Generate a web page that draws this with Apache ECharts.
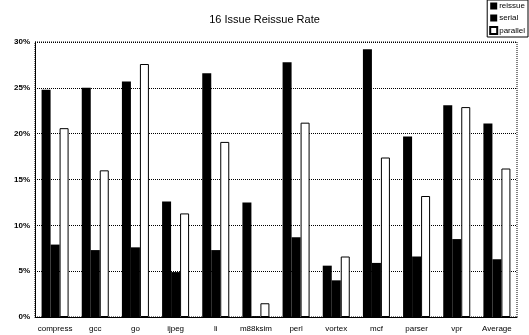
<!DOCTYPE html>
<html>
<head>
<meta charset="utf-8">
<script src="https://cdn.jsdelivr.net/npm/echarts@6/dist/echarts.min.js"></script>
<style>html,body{margin:0;padding:0;background:#fff;}#c{width:529px;height:335px;}</style>
</head>
<body>
<div id="c"></div>
<script>
var categories = ['compress','gcc','go','ijpeg','li','m88ksim','perl','vortex','mcf','parser','vpr','Average'];
var reissue  = [24.8, 25.0, 25.7, 12.6, 26.6, 12.5, 27.8, 5.6, 29.2, 19.7, 23.1, 21.1];
var serial   = [7.9, 7.3, 7.6, 4.9, 7.3, 0.1, 8.7, 4.0, 5.9, 6.6, 8.5, 6.3];
var parallel = [20.6, 16.0, 27.6, 11.3, 19.1, 1.5, 21.2, 6.6, 17.4, 13.2, 22.9, 16.2];
var yTicks = [0, 5, 10, 15, 20, 25, 30];

var font = '"Liberation Sans", Arial, sans-serif';
var chart = echarts.init(document.getElementById('c'));
chart.setOption({
  animation: false,
  backgroundColor: '#fff',
  title: {
    text: '16 Issue Reissue Rate',
    left: 'center', top: 9,
    textStyle: {fontFamily: font, fontSize: 11, fontWeight: 'normal', color: '#000'}
  },
  legend: {
    orient: 'vertical', right: 1, top: 0,
    itemWidth: 7, itemHeight: 7, itemGap: 4,
    padding: [2, 3, 2, 2],
    borderColor: '#000', borderWidth: 1,
    icon: 'rect',
    textStyle: {fontFamily: font, fontSize: 8, color: '#000', padding: [0, 0, 0, -3]},
    data: ['reissue', 'serial', 'parallel']
  },
  grid: {
    left: 35, right: 12, top: 42, bottom: 18,
    show: true, borderColor: '#000', borderWidth: 1, borderType: 'dotted',
    backgroundColor: 'transparent'
  },
  xAxis: {
    type: 'category', data: categories,
    axisLine: {lineStyle: {color: '#000', width: 1}},
    axisTick: {show: false},
    axisLabel: {fontFamily: font, fontSize: 8, color: '#000', margin: 8, interval: 0}
  },
  yAxis: {
    type: 'value', min: yTicks[0], max: yTicks[yTicks.length - 1], interval: 5,
    axisLine: {show: true, lineStyle: {color: '#000', width: 1}},
    axisTick: {show: false},
    axisLabel: {fontFamily: font, fontSize: 8, fontWeight: 'bold', color: '#000', formatter: '{value}%', margin: 5},
    splitLine: {show: true, lineStyle: {color: '#000', type: 'dotted', width: 1}}
  },
  series: [
    {name: 'reissue', type: 'bar', data: reissue, barWidth: 9, barGap: '0%',
     itemStyle: {color: '#000'}},
    {name: 'serial', type: 'bar', data: serial, barWidth: 9, barGap: '0%',
     itemStyle: {color: '#000'}},
    {name: 'parallel', type: 'bar', data: parallel, barWidth: 9, barGap: '0%',
     itemStyle: {color: '#fff', borderColor: '#000', borderWidth: 1}}
  ]
});
</script>
</body>
</html>
